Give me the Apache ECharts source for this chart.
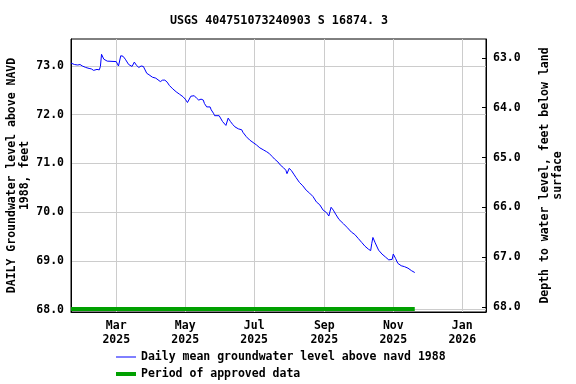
<!DOCTYPE html>
<html>
<head>
<meta charset="utf-8">
<script src="https://cdn.jsdelivr.net/npm/echarts@6/dist/echarts.min.js"></script>
<style>html,body{margin:0;padding:0;background:#fff}#c{width:576px;height:384px}</style>
</head>
<body>
<div id="c"></div>
<script>
const titleText = 'USGS 404751073240903 S 16874. 3';
const dates = ['2025-01-20','2025-01-23','2025-01-26','2025-01-28','2025-01-30','2025-02-02','2025-02-05','2025-02-07','2025-02-09','2025-02-12','2025-02-14','2025-02-15','2025-02-16','2025-02-18','2025-02-21','2025-03-01','2025-03-03','2025-03-04','2025-03-05','2025-03-07','2025-03-09','2025-03-12','2025-03-15','2025-03-17','2025-03-19','2025-03-21','2025-03-23','2025-03-25','2025-03-28','2025-03-30','2025-04-02','2025-04-05','2025-04-09','2025-04-11','2025-04-13','2025-04-15','2025-04-17','2025-04-20','2025-04-23','2025-04-26','2025-04-29','2025-05-01','2025-05-03','2025-05-04','2025-05-06','2025-05-09','2025-05-11','2025-05-13','2025-05-15','2025-05-17','2025-05-18','2025-05-20','2025-05-21','2025-05-23','2025-05-24','2025-05-26','2025-05-27','2025-05-31','2025-06-01','2025-06-03','2025-06-06','2025-06-08','2025-06-09','2025-06-10','2025-06-12','2025-06-14','2025-06-17','2025-06-20','2025-06-21','2025-06-24','2025-06-27','2025-06-30','2025-07-03','2025-07-06','2025-07-09','2025-07-12','2025-07-14','2025-07-15','2025-07-17','2025-07-19','2025-07-22','2025-07-24','2025-07-27','2025-07-29','2025-07-30','2025-08-01','2025-08-03','2025-08-05','2025-08-07','2025-08-10','2025-08-13','2025-08-16','2025-08-19','2025-08-22','2025-08-25','2025-08-28','2025-08-31','2025-09-03','2025-09-05','2025-09-07','2025-09-09','2025-09-11','2025-09-14','2025-09-18','2025-09-21','2025-09-25','2025-09-28','2025-10-01','2025-10-04','2025-10-07','2025-10-10','2025-10-12','2025-10-13','2025-10-14','2025-10-16','2025-10-19','2025-10-22','2025-10-25','2025-10-28','2025-10-29','2025-10-31','2025-11-01','2025-11-03','2025-11-05','2025-11-08','2025-11-11','2025-11-14','2025-11-17','2025-11-20'];
const levels = [73.06,73.03,73.02,73.03,73.00,72.97,72.95,72.94,72.91,72.93,72.92,72.99,73.24,73.14,73.10,73.09,73.00,73.02,73.21,73.20,73.14,73.03,72.99,73.08,73.01,72.97,73.00,72.99,72.85,72.82,72.77,72.75,72.68,72.71,72.71,72.67,72.60,72.53,72.47,72.42,72.37,72.32,72.25,72.28,72.38,72.39,72.34,72.30,72.32,72.30,72.23,72.16,72.13,72.16,72.10,72.03,71.98,71.98,71.94,71.86,71.78,71.93,71.92,71.86,71.80,71.75,71.71,71.69,71.64,71.55,71.48,71.43,71.38,71.32,71.28,71.24,71.21,71.24,71.14,71.09,71.03,70.97,70.91,70.86,70.79,70.90,70.85,70.78,70.71,70.61,70.54,70.45,70.39,70.32,70.21,70.15,70.04,69.99,69.92,70.10,70.04,69.96,69.85,69.76,69.69,69.59,69.54,69.46,69.38,69.30,69.24,69.21,69.36,69.48,69.37,69.22,69.14,69.08,69.02,68.98,69.03,69.14,69.05,68.95,68.90,68.88,68.85,68.80,68.76];
const approvedDates = ['2025-01-20','2025-11-20'];
const approvedLevels = [68.01, 68.01];
const levelTicks = [68, 69, 70, 71, 72, 73];
const depthTicks = [63, 64, 65, 66, 67, 68];
const monthTicks = ['2025-03-01','2025-05-01','2025-07-01','2025-09-01','2025-11-01','2026-01-01'];
const monthLabels = ['Mar\n2025','May\n2025','Jul\n2025','Sep\n2025','Nov\n2025','Jan\n2026'];
const seriesNames = ['Daily mean groundwater level above navd 1988', 'Period of approved data'];
const leftAxisName = 'DAILY Groundwater level above NAVD\n1988, feet';
const rightAxisName = 'Depth to water level, feet below land\nsurface';

const t = s => echarts.time.parse(s).getTime();
const monthTickTimes = monthTicks.map(t);
const FONT = '"DejaVu Sans Mono", monospace';
const txt = {fontFamily: FONT, fontWeight: 'bold', fontSize: 11.5, color: '#000'};

const chart = echarts.init(document.getElementById('c'), null, {renderer: 'canvas'});
chart.setOption({
  animation: false,
  backgroundColor: '#fff',
  title: {text: titleText, left: 170, top: 15, padding: 0, textStyle: Object.assign({}, txt, {fontSize: 11.7})},
  grid: {left: 71, right: 90, top: 39, bottom: 72, show: true, borderColor: '#000', borderWidth: 1,
    containLabel: false, outerBoundsMode: 'none'},
  legend: {
    orient: 'vertical', left: 114, top: 351, padding: 0, itemWidth: 20, itemHeight: 12, itemGap: 5,
    textStyle: Object.assign({}, txt, {fontSize: 11.5}),
    itemStyle: {opacity: 0},
    data: [{name: seriesNames[0], lineStyle: {width: 1}}, {name: seriesNames[1], lineStyle: {width: 4}}]
  },
  xAxis: {
    type: 'value', min: t('2025-01-20'), max: t('2026-01-22'),
    axisLine: {show: true, onZero: false, lineStyle: {color: '#000'}},
    axisTick: {show: false, customValues: monthTickTimes},
    axisLabel: {customValues: monthTickTimes, margin: 7, lineHeight: 14, ...txt,
      formatter: v => { const i = monthTickTimes.indexOf(v); return i >= 0 ? monthLabels[i] : ''; }},
    splitLine: {show: true, lineStyle: {color: '#cccccc', width: 1}}
  },
  yAxis: [{
    type: 'value', min: 67.95, max: 73.554, position: 'left',
    name: leftAxisName, nameLocation: 'middle', nameRotate: 90, nameGap: 39, nameMoveOverlap: false,
    nameTextStyle: Object.assign({}, txt, {lineHeight: 13}),
    axisLine: {show: true, lineStyle: {color: '#000'}},
    axisTick: {show: false, customValues: levelTicks},
    axisLabel: {customValues: levelTicks, margin: 7, ...txt, formatter: v => v.toFixed(1)},
    splitLine: {show: true, lineStyle: {color: '#cccccc', width: 1}}
  }, {
    type: 'value', min: 62.62, max: 68.10, inverse: true, position: 'right',
    name: rightAxisName, nameLocation: 'middle', nameRotate: 90, nameGap: 53,
    nameTextStyle: Object.assign({}, txt, {lineHeight: 13}),
    axisLine: {show: true, lineStyle: {color: '#000'}},
    axisTick: {show: true, inside: true, length: 4, customValues: depthTicks, lineStyle: {color: '#000'}},
    axisLabel: {customValues: depthTicks, margin: 7, ...txt, formatter: v => v.toFixed(1)},
    splitLine: {show: false}
  }],
  series: [{
    name: seriesNames[0], type: 'line', yAxisIndex: 0, symbol: 'none',
    lineStyle: {color: '#0000ff', width: 1}, itemStyle: {color: '#0000ff'},
    data: dates.map((d, i) => [t(d), levels[i]])
  }, {
    name: seriesNames[1], type: 'line', yAxisIndex: 0, symbol: 'none',
    lineStyle: {color: '#00a000', width: 4}, itemStyle: {color: '#00a000'},
    data: approvedDates.map((d, i) => [t(d), approvedLevels[i]])
  }]
});
</script>
</body>
</html>
